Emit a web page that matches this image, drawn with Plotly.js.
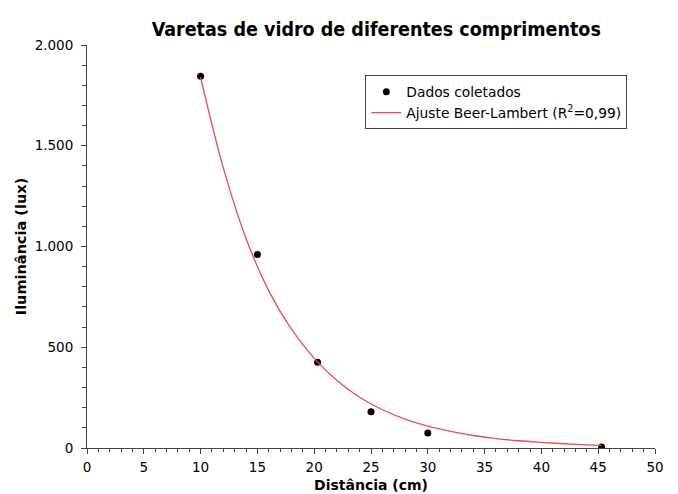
<!DOCTYPE html>
<html><head><meta charset="utf-8">
<script src="https://cdn.plot.ly/plotly-3.0.1.min.js"></script>
<style>body{margin:0;background:#fff}#c{width:678px;height:494px}</style>
</head><body><div id="c"></div>
<script>
// Measured data
const dataX = [10, 15, 20.3, 25, 30, 45.3];
const dataY = [1845, 960, 425, 180, 75, 5];
// Fit curve
const fitX = [10, 12, 14, 16, 18, 20, 22, 24, 26, 28, 30, 32, 34, 36, 38, 40, 42, 44, 45.3];
const fitY = [1840, 1390, 1040, 780, 590, 445, 335, 252, 190, 143, 108, 82, 62, 47, 36, 28, 21, 16, 13];

const font = "Verdana, 'DejaVu Sans', sans-serif";
const traces = [
  {x: dataX, y: dataY, mode: 'markers', type: 'scatter', name: 'Dados coletados',
   marker: {color: '#000', size: 7}},
  {x: fitX, y: fitY, mode: 'lines', type: 'scatter', name: 'Ajuste Beer-Lambert (R<sup>2</sup>=0,99)',
   line: {color: '#f04a4a', width: 1.3, shape: 'spline'}}
];
const axisCommon = {
  showgrid: false, zeroline: false, showline: true, linecolor: '#444', linewidth: 1,
  ticks: 'outside', ticklen: 5, tickcolor: '#444', tickfont: {family: font, size: 13.5, color: '#000'}
};
const layout = {
  width: 678, height: 494,
  margin: {l: 87, r: 23, t: 45, b: 46},
  paper_bgcolor: '#fff', plot_bgcolor: '#fff',
  separators: ',.',
  title: {text: '<b>Varetas de vidro de diferentes comprimentos</b>', x: 0.555, xanchor: 'center', y: 0.955,
          font: {family: "'DejaVu Sans Condensed', 'DejaVu Sans', sans-serif", size: 19.5, color: '#000'}},
  xaxis: Object.assign({}, axisCommon, {range: [0, 50], dtick: 5, tick0: 0, ticklabelstandoff: 2,
    minor: {dtick: 1, ticks: 'outside', ticklen: 3, tickcolor: '#444'},
    title: {text: '<b>Distância (cm)</b>', standoff: 5, font: {family: font, size: 14, color: '#000'}}}),
  yaxis: Object.assign({}, axisCommon, {range: [0, 2000], dtick: 500, tick0: 0, tickformat: ',d', ticklabelstandoff: 5,
    minor: {dtick: 100, ticks: 'outside', ticklen: 4, tickcolor: '#444'},
    title: {text: '<b>Iluminância (lux)</b>', standoff: 4, font: {family: font, size: 14.5, color: '#000'}}}),
  legend: {x: 0.49, y: 0.925, xanchor: 'left', yanchor: 'top', bordercolor: '#444', borderwidth: 1,
           bgcolor: '#fff', font: {family: font, size: 13.8, color: '#000'}, tracegroupgap: 0},
  showlegend: true
};
Plotly.newPlot('c', traces, layout, {displayModeBar: false, staticPlot: true});
</script></body></html>
